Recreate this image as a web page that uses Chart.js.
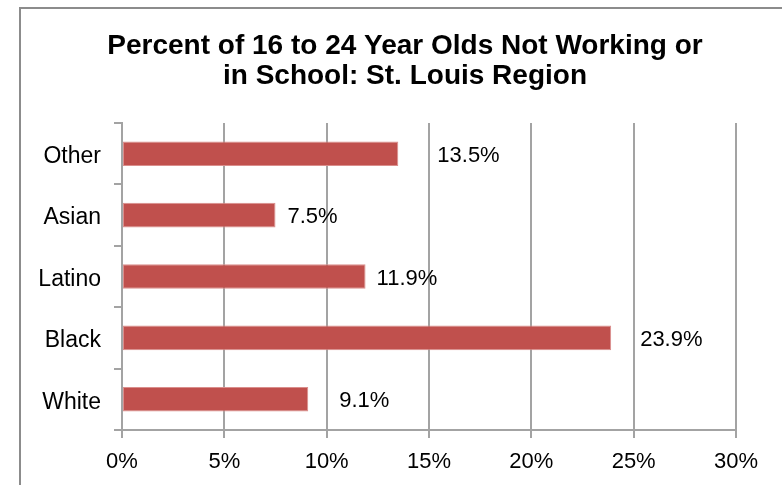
<!DOCTYPE html>
<html>
<head>
<meta charset="utf-8">
<script src="https://cdn.jsdelivr.net/npm/chart.js@4"></script>
<style>
  html, body { margin: 0; padding: 0; background: #fff; }
  #wrap { width: 782px; height: 485px; position: relative; }
</style>
</head>
<body>
<div id="wrap"><canvas id="myChart"></canvas></div>
<script>
// chart data
const groups = ['Other', 'Asian', 'Latino', 'Black', 'White'];
const pctNotWorking = [13.5, 7.5, 11.9, 23.9, 9.1];
const valueLabels = ['13.5%', '7.5%', '11.9%', '23.9%', '9.1%'];
const axisTicks = [0, 5, 10, 15, 20, 25, 30];
const titleLines = ['Percent of 16 to 24 Year Olds Not Working or', 'in School: St. Louis Region'];

// how far each value label sits right of its bar (px), as in the original
const labelGap = [39, 12, 11, 29, 31];

const gridGray = '#a3a3a3';
const fontFamily = '"Liberation Sans", Arial, sans-serif';

// outer frame of the chart object (runs off the right and bottom) + title
const framePlugin = {
    id: 'frame',
    beforeDraw(chart) {
        const ctx = chart.ctx;
        ctx.save();
        ctx.fillStyle = '#fff';
        ctx.fillRect(0, 0, chart.width, chart.height);
        ctx.strokeStyle = '#8c8c8c';
        ctx.lineWidth = 2;
        ctx.beginPath();
        ctx.moveTo(20, chart.height + 2);
        ctx.lineTo(20, 8);
        ctx.lineTo(chart.width + 2, 8);
        ctx.stroke();

        // title is centred over the whole chart object, not the plot
        ctx.fillStyle = '#000';
        ctx.font = 'bold 28px ' + fontFamily;
        ctx.textAlign = 'center';
        ctx.textBaseline = 'middle';
        titleLines.forEach((line, i) => ctx.fillText(line, 405, 46 + i * 30));
        ctx.restore();
    }
};

// value labels next to the bars
const valueLabelPlugin = {
    id: 'valueLabels',
    afterDatasetsDraw(chart) {
        const ctx = chart.ctx;
        const meta = chart.getDatasetMeta(0);
        ctx.save();
        ctx.font = '22px ' + fontFamily;
        ctx.fillStyle = '#000';
        ctx.textAlign = 'left';
        ctx.textBaseline = 'middle';
        meta.data.forEach((bar, i) => {
            ctx.fillText(valueLabels[i], bar.x + labelGap[i], bar.y + 2);
        });
        ctx.restore();
    }
};

new Chart(document.getElementById('myChart').getContext('2d'), {
    type: 'bar',
    data: {
        labels: groups,
        datasets: [{
            data: pctNotWorking,
            backgroundColor: '#C0504D',
            borderColor: '#DA8E8C',
            borderWidth: 1,
            borderSkipped: false,
            barPercentage: 0.4,
            categoryPercentage: 1
        }]
    },
    options: {
        indexAxis: 'y',
        responsive: true,
        maintainAspectRatio: false,
        animation: false,
        layout: { padding: { left: 0, right: 46, top: 123, bottom: 0 } },
        plugins: {
            legend: { display: false },
            tooltip: { enabled: false },
            title: { display: false }
        },
        scales: {
            x: {
                min: axisTicks[0],
                max: axisTicks[axisTicks.length - 1],
                afterBuildTicks: scale => { scale.ticks = axisTicks.map(v => ({ value: v })); },
                afterFit: scale => { scale.height = 55; },
                grid: { color: gridGray, lineWidth: 2, tickLength: 8, drawTicks: true },
                border: { color: gridGray, width: 2 },
                ticks: {
                    color: '#000',
                    padding: 11,
                    maxRotation: 0,
                    font: { family: fontFamily, size: 22 },
                    callback: v => v + '%'
                }
            },
            y: {
                afterFit: scale => { scale.width = 122; },
                grid: { offset: true, drawOnChartArea: false, color: gridGray, lineWidth: 2, tickLength: 8 },
                border: { color: gridGray, width: 2 },
                ticks: {
                    color: '#000',
                    padding: 13,
                    labelOffset: 3,
                    font: { family: fontFamily, size: 23 }
                }
            }
        }
    },
    plugins: [framePlugin, valueLabelPlugin]
});
</script>
</body>
</html>
